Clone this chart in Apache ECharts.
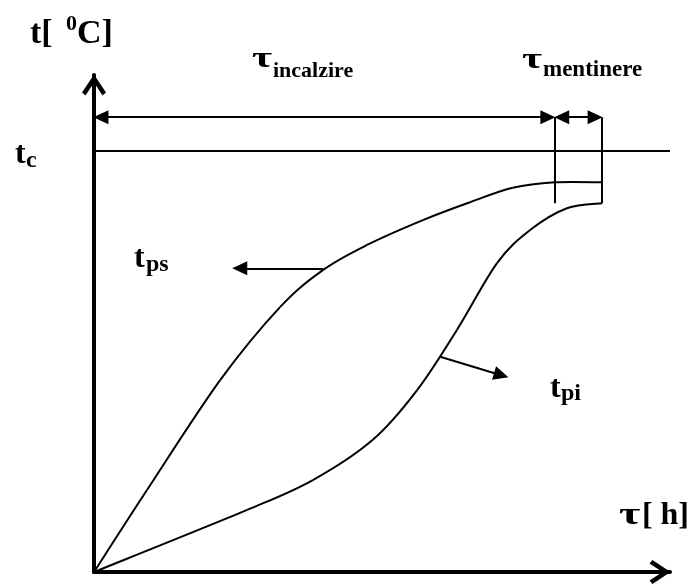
<!DOCTYPE html>
<html>
<head>
<meta charset="utf-8">
<script src="https://cdn.jsdelivr.net/npm/echarts@6/dist/echarts.min.js"></script>
<style>
  html, body { margin: 0; padding: 0; background: #fff; }
  #chart { width: 692px; height: 587px; }
</style>
</head>
<body>
<div id="chart"></div>
<script>
// tau si t in unitati relative (0..100 pe fiecare axa)
const tpsTau = [0, 9.2, 21.9, 32.3, 39.8, 47.4, 57.1, 65.3, 72.7, 80.0, 88.2];
const tpsTemp = [0, 16.5, 38.6, 53.3, 60.8, 65.8, 70.8, 74.4, 77.3, 78.4, 78.4];

const tpiTau = [0, 26.6, 38.0, 48.4, 56.1, 63.0, 70.0, 75.7, 82.1, 88.2];
const tpiTemp = [0, 12.5, 18.5, 26.6, 36.6, 48.7, 62.2, 68.8, 73.2, 74.2];

const tcTemp = 84.7;          // temperatura cuptorului
const tauHeatEnd = 80.0;      // sfarsit incalzire
const tauHoldEnd = 88.2;      // sfarsit mentinere
const dimTemp = 91.5;         // cota tau
const markBottom = 74.2;      // capatul de jos al liniilor de cota

// sagetile de la etichete [tauStart, tStart, tauEnd, tEnd]
const psArrow = [39.8, 61.1, 25.3, 61.1];
const piArrow = [60.1, 43.3, 70.7, 39.6];

const chevron = "path://M12,0 L24,18 L20.5,21 L12,8 L3.5,21 L0,18 Z";
const serif = "'Liberation Serif', 'DejaVu Serif', serif";

const zip = (a, b) => a.map((v, i) => [v, b[i]]);

// etichete: [text, fontSize, x, baseline, align, scaleX]
const labels = [
  ["t[", 34, 30, 46, "left", 1],
  ["0", 22, 66, 32, "left", 1],
  ["C]", 34, 77, 46, "left", 1],
  ["τ", 30, 252, 69, "left", 1.45],
  ["incalzire", 22, 273, 79, "left", 1],
  ["τ", 30, 522, 70, "left", 1.45],
  ["mentinere", 23, 543, 78, "left", 1],
  ["t", 32, 15, 166, "left", 1],
  ["c", 24, 26, 169, "left", 1],
  ["t", 32, 134, 270, "left", 1],
  ["ps", 24, 146, 273, "left", 1],
  ["t", 32, 550, 400, "left", 1],
  ["pi", 24, 561, 402, "left", 1],
  ["[ h]", 32, 689, 527, "right", 1],
  ["τ", 32, 619, 527, "left", 1.45],
];

// curba neteda (Catmull-Rom) prin punctele seriei, segment cu segment
function curveSeries(name, xs, ys) {
  const pts = zip(xs, ys);
  return {
    name: name,
    type: "custom",
    data: pts,
    silent: true,
    clip: false,
    encode: { x: 0, y: 1 },
    renderItem: function (params, api) {
      const i = params.dataIndex;
      const n = pts.length;
      if (i >= n - 1) return null;
      const p = (k) => api.coord(pts[Math.max(0, Math.min(n - 1, k))]);
      const p0 = p(i - 1), p1 = p(i), p2 = p(i + 1), p3 = p(i + 2);
      return {
        type: "bezierCurve",
        shape: {
          x1: p1[0], y1: p1[1],
          x2: p2[0], y2: p2[1],
          cpx1: p1[0] + (p2[0] - p0[0]) / 6,
          cpy1: p1[1] + (p2[1] - p0[1]) / 6,
          cpx2: p2[0] - (p3[0] - p1[0]) / 6,
          cpy2: p2[1] - (p3[1] - p1[1]) / 6,
        },
        style: { stroke: "#000", lineWidth: 2, fill: null },
      };
    },
  };
}

const chart = echarts.init(document.getElementById("chart"));

const thin = { color: "#000", width: 2, type: "solid" };

const option = {
  animation: false,
  backgroundColor: "#fff",
  grid: { left: 94, right: 22, top: 75, bottom: 15 },
  xAxis: {
    type: "value",
    min: 0,
    max: 100,
    axisLine: {
      show: true,
      onZero: false,
      symbol: ["none", chevron],
      symbolSize: [24, 21],
      symbolOffset: [0, -10],
      lineStyle: { color: "#000", width: 4 },
    },
    axisTick: { show: false },
    axisLabel: { show: false },
    splitLine: { show: false },
  },
  yAxis: {
    type: "value",
    min: 0,
    max: 100,
    axisLine: {
      show: true,
      onZero: false,
      symbol: ["none", chevron],
      symbolSize: [24, 21],
      symbolOffset: [0, -10],
      lineStyle: { color: "#000", width: 4 },
    },
    axisTick: { show: false },
    axisLabel: { show: false },
    splitLine: { show: false },
  },
  series: [
    curveSeries("tps", tpsTau, tpsTemp),
    curveSeries("tpi", tpiTau, tpiTemp),
    {
      name: "tc",
      type: "line",
      data: [[0, tcTemp], [100, tcTemp]],
      showSymbol: false,
      silent: true,
      lineStyle: thin,
      markLine: {
        silent: true,
        label: { show: false },
        lineStyle: { color: "#000", width: 2, type: "solid" },
        symbol: ["triangle", "triangle"],
        symbolSize: [14, 15],
        data: [
          // cote tau incalzire / mentinere
          [{ coord: [1.2, dimTemp] }, { coord: [tauHeatEnd - 1.2, dimTemp] }],
          [{ coord: [tauHeatEnd + 1.2, dimTemp] }, { coord: [tauHoldEnd - 1.2, dimTemp] }],
          // linii verticale
          [{ coord: [tauHeatEnd, markBottom], symbol: "none" }, { coord: [tauHeatEnd, dimTemp], symbol: "none" }],
          [{ coord: [tauHoldEnd, markBottom], symbol: "none" }, { coord: [tauHoldEnd, dimTemp], symbol: "none" }],
          // sageti etichete
          [
            { coord: [psArrow[0], psArrow[1]], symbol: "none" },
            { coord: [psArrow[2], psArrow[3]], symbol: "triangle", symbolSize: [14, 15] },
          ],
          [
            { coord: [piArrow[0], piArrow[1]], symbol: "none" },
            { coord: [piArrow[2], piArrow[3]], symbol: "triangle", symbolSize: [14, 15] },
          ],
        ],
      },
    },
  ],
  graphic: labels.map(([text, size, x, base, align, sx]) => ({
    type: "text",
    x: x,
    y: base - 0.34 * size,
    scaleX: sx,
    silent: true,
    style: {
      text: text,
      font: "bold " + size + "px " + serif,
      fill: "#000",
      textAlign: align,
      align: align,
      textVerticalAlign: "middle",
      verticalAlign: "middle",
    },
  })),
};

chart.setOption(option);
</script>
</body>
</html>
